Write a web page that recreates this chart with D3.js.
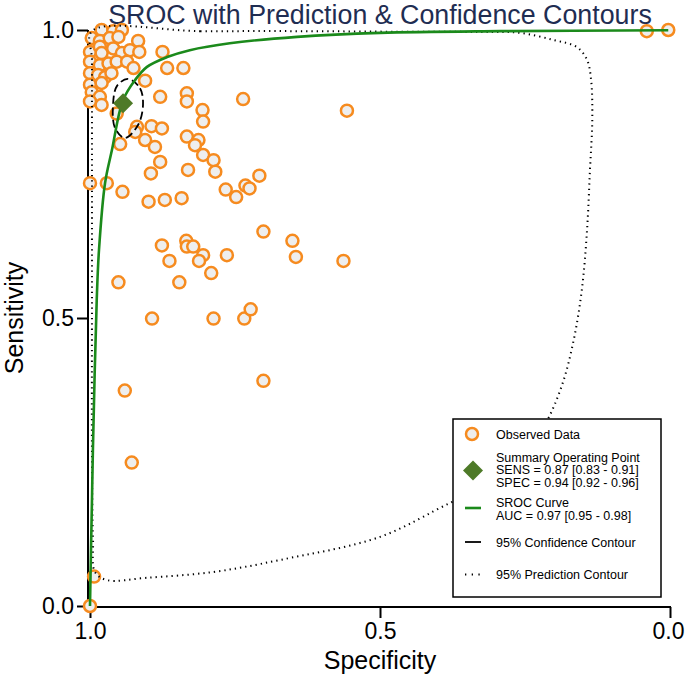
<!DOCTYPE html>
<html>
<head>
<meta charset="utf-8">
<script src="https://cdn.jsdelivr.net/npm/d3@7"></script>
<style>
  html, body { margin: 0; padding: 0; background: #ffffff; }
  svg { display: block; }
  text { font-family: "Liberation Sans", Arial, Helvetica, sans-serif; }
</style>
</head>
<body>
<svg id="chart" width="685" height="676"></svg>
<script>
// ---------------- DATA ----------------
const title = "SROC with Prediction & Confidence Contours";
const xLabel = "Specificity";
const yLabel = "Sensitivity";
const tickValues = [0, 0.5, 1];

// observed studies
const obsSpec = [0.980,0.960,0.945,0.997,0.983,0.966,0.951,0.917,1.000,0.983,0.980,0.960,0.945,0.931,0.915,0.875,
  1.000,0.983,0.968,0.954,0.936,0.925,0.867,0.839,1.000,0.986,0.974,0.963,1.000,0.980,0.905,0.997,0.983,0.879,
  0.833,0.833,1.000,0.980,0.736,0.557,0.806,0.805,0.954,0.919,0.894,0.876,0.922,0.905,0.888,0.948,0.833,0.813,
  0.819,0.805,0.787,0.784,0.879,0.895,0.831,0.708,0.766,0.732,0.725,0.748,1.000,0.971,0.944,0.899,0.871,0.842,
  0.701,0.651,0.645,0.563,0.876,0.834,0.833,0.822,0.805,0.812,0.863,0.764,0.791,0.951,0.846,0.893,0.787,0.734,
  0.723,0.940,0.701,0.928,0.993,1.000,0.040,0.003];
const obsSens = [1.000,0.998,1.000,0.986,0.981,0.986,0.988,0.981,0.962,0.971,0.960,0.968,0.960,0.965,0.962,0.962,
  0.945,0.939,0.942,0.945,0.945,0.934,0.934,0.934,0.925,0.922,0.918,0.925,0.905,0.908,0.912,0.892,0.884,0.884,
  0.890,0.876,0.876,0.870,0.880,0.860,0.861,0.841,0.855,0.832,0.833,0.829,0.823,0.809,0.797,0.802,0.815,0.809,
  0.800,0.783,0.774,0.754,0.771,0.751,0.757,0.747,0.723,0.730,0.725,0.710,0.734,0.734,0.719,0.702,0.705,0.708,
  0.650,0.634,0.606,0.599,0.626,0.634,0.624,0.624,0.609,0.599,0.599,0.609,0.578,0.562,0.562,0.499,0.499,0.499,
  0.515,0.374,0.391,0.249,0.051,0.000,0.998,1.000];

// summary operating point
const summarySpec = 0.943;
const summarySens = 0.873;

// SROC curve
const srocSpec = [1.000,0.9983,0.9966,0.995,0.9884,0.9845,0.9741,0.9621,0.9431,0.9224,0.9017,0.867,0.828,0.759,0.643,0.500,0.293,0.003];
const srocSens = [0.000,0.097,0.184,0.271,0.531,0.618,0.734,0.792,0.878,0.913,0.936,0.953,0.965,0.977,0.988,0.995,0.998,0.9995];

// 95% confidence contour
const confSpec = [0.9345,0.9138,0.9086,0.9172,0.9397,0.9569,0.9603,0.9534];
const confSens = [0.915,0.899,0.870,0.835,0.8125,0.830,0.870,0.903];

// 95% prediction contour
const predSpec = [0.9966,0.810,0.638,0.466,0.328,0.259,0.202,0.160,0.143,0.136,0.134,0.138,0.143,0.152,0.166,0.186,
  0.216,0.259,0.310,0.379,0.500,0.672,0.788,0.902,0.971,0.9914,0.9948,0.9966,0.9966,0.9966,0.9966];
const predSens = [0.998,0.998,0.998,0.997,0.9965,0.995,0.983,0.970,0.948,0.913,0.844,0.757,0.653,0.549,0.462,0.384,
  0.314,0.253,0.210,0.179,0.120,0.080,0.059,0.049,0.045,0.059,0.115,0.271,0.531,0.792,0.948];

// legend
const legendLabels = [
  ["Observed Data"],
  ["Summary Operating Point", "SENS = 0.87 [0.83 - 0.91]", "SPEC = 0.94 [0.92 - 0.96]"],
  ["SROC Curve", "AUC = 0.97 [0.95 - 0.98]"],
  ["95% Confidence Contour"],
  ["95% Prediction Contour"]
];

// ---------------- CHART ----------------
const orange = "#f68b1f", pointFill = "#eeeeee", green = "#1b8a1b", olive = "#4e7a28", navy = "#1f2d52";
const svg = d3.select("#chart");
const x = d3.scaleLinear().domain([1, 0]).range([90, 670]);
const y = d3.scaleLinear().domain([0, 1]).range([606, 30]);

const zip = (a, b) => a.map((v, i) => [v, b[i]]);
const mkLine = c => d3.line().x(d => x(d[0])).y(d => y(d[1])).curve(c);

// title
svg.append("text").attr("x", 380).attr("y", 24).attr("text-anchor", "middle")
  .attr("font-size", 26.8).attr("fill", navy).text(title);

// axes
const yAxis = d3.axisLeft(y).tickValues(tickValues).tickFormat(d3.format(".1f")).tickSize(11).tickPadding(3).tickSizeOuter(0);
const gy = svg.append("g").attr("transform", "translate(88,0)").call(yAxis);
const xAxis = d3.axisBottom(x).tickValues(tickValues).tickFormat(d3.format(".1f")).tickSize(11).tickPadding(5).tickSizeOuter(0);
const gx = svg.append("g").attr("transform", "translate(0,607)").call(xAxis);
[gx, gy].forEach(g => {
  g.select(".domain").remove();
  g.selectAll(".tick line").attr("stroke", "#000").attr("stroke-width", 2);
  g.selectAll(".tick text").attr("font-size", 23).attr("fill", "#000")
    .attr("font-family", "'Liberation Sans', Arial, Helvetica, sans-serif");
});
gx.selectAll(".tick text").filter(d => d === 0).attr("dx", -2);
svg.append("line").attr("x1", 88).attr("x2", 88).attr("y1", y(1)).attr("y2", 608)
  .attr("stroke", "#000").attr("stroke-width", 2);
svg.append("line").attr("x1", 87).attr("x2", x(0) + 1).attr("y1", 607).attr("y2", 607)
  .attr("stroke", "#000").attr("stroke-width", 2);

// axis titles
svg.append("text").attr("x", 380).attr("y", 669).attr("text-anchor", "middle")
  .attr("font-size", 25).attr("fill", "#000").text(xLabel);
svg.append("text").attr("transform", "translate(23,318) rotate(-90)").attr("text-anchor", "middle")
  .attr("font-size", 25).attr("fill", "#000").text(yLabel);

// observed points
svg.append("g").selectAll("circle").data(zip(obsSpec, obsSens)).join("circle")
  .attr("cx", d => x(d[0])).attr("cy", d => y(d[1])).attr("r", 6)
  .attr("fill", pointFill).attr("stroke", orange).attr("stroke-width", 2.5);

// prediction contour
svg.append("path").datum(zip(predSpec, predSens))
  .attr("d", mkLine(d3.curveCatmullRomClosed.alpha(0.5)))
  .attr("fill", "none").attr("stroke", "#000").attr("stroke-width", 2)
  .attr("stroke-dasharray", "1.3,4");

// confidence contour
svg.append("path").datum(zip(confSpec, confSens))
  .attr("d", mkLine(d3.curveCatmullRomClosed.alpha(0.5)))
  .attr("fill", "none").attr("stroke", "#000").attr("stroke-width", 1.8)
  .attr("stroke-dasharray", "8,4");

// SROC curve
svg.append("path").datum(zip(srocSpec, srocSens))
  .attr("d", mkLine(d3.curveCatmullRom.alpha(0.5)))
  .attr("fill", "none").attr("stroke", green).attr("stroke-width", 2.6);

// summary point
const diamond = (cx, cy, r) => `M${cx},${cy - r}L${cx + r},${cy}L${cx},${cy + r}L${cx - r},${cy}Z`;
svg.append("path").attr("d", diamond(x(summarySpec), y(summarySens), 10)).attr("fill", olive);

// legend
const lg = svg.append("g");
lg.append("rect").attr("x", 453).attr("y", 419).attr("width", 208).attr("height", 178)
  .attr("fill", "#fff").attr("stroke", "#000").attr("stroke-width", 1.5);
const baselines = [[439], [461.5, 474.2, 486.9], [507, 520], [546.7], [579.3]];
legendLabels.forEach((lines, i) => {
  lines.forEach((t, j) => {
    lg.append("text").attr("x", 496).attr("y", baselines[i][j]).attr("font-size", 12.5)
      .attr("fill", "#000").text(t);
  });
});
lg.append("circle").attr("cx", 472).attr("cy", 434).attr("r", 6)
  .attr("fill", pointFill).attr("stroke", orange).attr("stroke-width", 2.5);
lg.append("path").attr("d", diamond(473, 470.5, 10)).attr("fill", olive);
lg.append("line").attr("x1", 465).attr("x2", 481).attr("y1", 508).attr("y2", 508)
  .attr("stroke", green).attr("stroke-width", 2.6);
lg.append("line").attr("x1", 465).attr("x2", 481).attr("y1", 542).attr("y2", 542)
  .attr("stroke", "#000").attr("stroke-width", 1.8);
lg.append("line").attr("x1", 465).attr("x2", 481).attr("y1", 574.5).attr("y2", 574.5)
  .attr("stroke", "#000").attr("stroke-width", 2).attr("stroke-dasharray", "1.3,5.4");
</script>
</body>
</html>
